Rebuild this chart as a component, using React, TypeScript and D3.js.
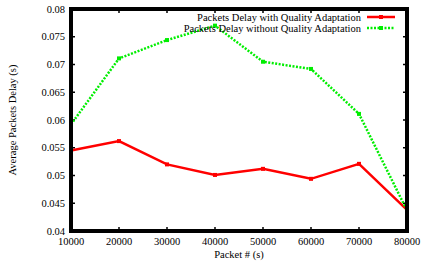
import React, { useEffect, useRef } from 'react';
import * as d3 from 'd3';

const packets = [10000, 20000, 30000, 40000, 50000, 60000, 70000, 80000];
const withQA = [0.0545, 0.0562, 0.0520, 0.0501, 0.0512, 0.0494, 0.0521, 0.0438];
const withoutQA = [0.0592, 0.0711, 0.0744, 0.0770, 0.0705, 0.0692, 0.0611, 0.0437];
const yTicks = [0.04, 0.045, 0.05, 0.055, 0.06, 0.065, 0.07, 0.075, 0.08];

const series = [
  { name: 'Packets Delay with Quality Adaptation', values: withQA, color: '#ff0000', dash: null },
  { name: 'Packets Delay without Quality Adaptation', values: withoutQA, color: '#00ee00', dash: '2,1.5' },
];

export default function App() {
  const svgRef = useRef<SVGSVGElement>(null);

  useEffect(() => {
    if (!svgRef.current) return;
    const svg = d3.select(svgRef.current);
    svg.selectAll('*').remove();

    const left = 71, right = 407, top = 9, bottom = 231;
    const font = "'Liberation Serif', 'DejaVu Serif', serif";

    const x = d3.scaleLinear().domain([10000, 80000]).range([left, right]);
    const y = d3.scaleLinear().domain([0.04, 0.08]).range([bottom, top]);

    // ticks (inward on all four sides)
    const g = svg.append('g').attr('stroke', '#000').attr('stroke-width', 1.5);
    yTicks.forEach(t => {
      g.append('line').attr('x1', left).attr('x2', left + 4).attr('y1', y(t)).attr('y2', y(t));
      g.append('line').attr('x1', right).attr('x2', right - 4).attr('y1', y(t)).attr('y2', y(t));
    });
    packets.forEach(t => {
      g.append('line').attr('x1', x(t)).attr('x2', x(t)).attr('y1', bottom).attr('y2', bottom - 4);
      g.append('line').attr('x1', x(t)).attr('x2', x(t)).attr('y1', top).attr('y2', top + 4);
    });

    // tick labels
    svg.append('g').selectAll('text').data(yTicks).join('text')
      .attr('x', left - 6).attr('y', d => y(d) + 3.5)
      .attr('text-anchor', 'end').attr('font-family', font).attr('font-size', 10.5)
      .text(d => String(+d.toFixed(3)));
    svg.append('g').selectAll('text').data(packets).join('text')
      .attr('x', d => x(d)).attr('y', bottom + 14)
      .attr('text-anchor', 'middle').attr('font-family', font).attr('font-size', 10.5)
      .text(d => String(d));

    // axis titles
    svg.append('text')
      .attr('transform', `translate(16,${(top + bottom) / 2}) rotate(-90)`)
      .attr('text-anchor', 'middle').attr('font-family', font).attr('font-size', 10.5)
      .text('Average Packets Delay (s)');
    svg.append('text')
      .attr('x', (left + right) / 2).attr('y', 258)
      .attr('text-anchor', 'middle').attr('font-family', font).attr('font-size', 10.5)
      .text('Packet # (s)');

    // lines
    const line = d3.line<number>().x((_, i) => x(packets[i])).y(d => y(d));
    series.forEach(s => {
      svg.append('path')
        .attr('d', line(s.values))
        .attr('fill', 'none')
        .attr('stroke', s.color)
        .attr('stroke-width', 2.5)
        .attr('stroke-dasharray', s.dash);
      svg.append('g').selectAll('rect').data(s.values).join('rect')
        .attr('x', (_, i) => x(packets[i]) - 2).attr('y', d => y(d) - 2)
        .attr('width', 4).attr('height', 4).attr('fill', s.color);
    });

    // legend
    series.forEach((s, i) => {
      const ly = 17 + i * 11;
      svg.append('text')
        .attr('x', 361).attr('y', ly + 3.5)
        .attr('text-anchor', 'end').attr('font-family', font).attr('font-size', 10.5)
        .text(s.name);
      svg.append('line')
        .attr('x1', 367).attr('x2', 395).attr('y1', ly).attr('y2', ly)
        .attr('stroke', s.color).attr('stroke-width', 2.5)
        .attr('stroke-dasharray', s.dash);
      svg.append('rect').attr('x', 379).attr('y', ly - 2).attr('width', 4).attr('height', 4).attr('fill', s.color);
    });

    // frame
    svg.append('rect')
      .attr('x', left).attr('y', top)
      .attr('width', right - left).attr('height', bottom - top)
      .attr('fill', 'none').attr('stroke', '#000').attr('stroke-width', 4);
  }, []);

  return (
    <svg ref={svgRef} width={422} height={266}
      style={{ position: 'absolute', left: 0, top: 0, background: '#fff' }} />
  );
}
